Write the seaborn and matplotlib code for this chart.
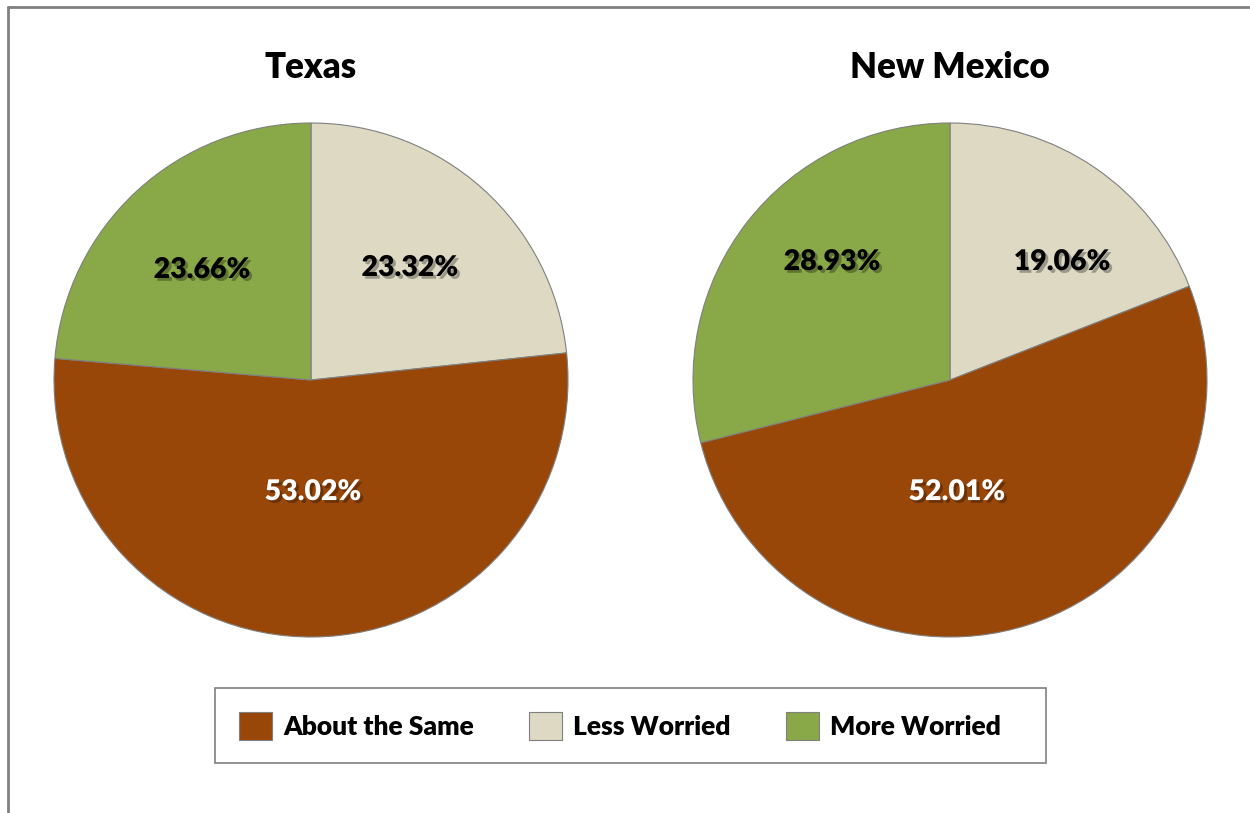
import matplotlib
matplotlib.use("Agg")
import matplotlib.pyplot as plt
import matplotlib.patheffects as pe
from matplotlib.patches import Patch, Rectangle
from matplotlib.lines import Line2D
import seaborn as sns

categories = ["Less Worried", "About the Same", "More Worried"]
texas = [23.32, 53.02, 23.66]
new_mexico = [19.06, 52.01, 28.93]
titles = ["Texas", "New Mexico"]
legend_order = ["About the Same", "Less Worried", "More Worried"]

# Percentage label anchors inside each pie, in units of the pie radius
label_anchors = [
    [(0.385, 0.436), (0.008, -0.436), (-0.424, 0.428)],
    [(0.436, 0.459), (0.027, -0.436), (-0.459, 0.459)],
]

sns.set_theme(style="white")
plt.rcParams["font.family"] = ["Lato", "DejaVu Sans"]

palette = {"About the Same": "#994708", "Less Worried": "#DDD9C3", "More Worried": "#89A847"}
label_color = {"About the Same": "white", "Less Worried": "black", "More Worried": "black"}

W, H = 1250, 813
fig = plt.figure(figsize=(W / 100, H / 100), dpi=100)
fig.patch.set_facecolor("white")

R = 257
centers = [(311, 380), (950, 380)]

for (cx, cy), title, values, anchors in zip(centers, titles, [texas, new_mexico], label_anchors):
    ax = fig.add_axes([(cx - R) / W, 1 - (cy + R) / H, 2 * R / W, 2 * R / H])
    wedges, texts, autotexts = ax.pie(
        values,
        colors=[palette[c] for c in categories],
        startangle=90,
        counterclock=False,
        autopct=lambda p: f"{p:.2f}%",
        pctdistance=0.58,
        wedgeprops=dict(edgecolor="#7f7f7f", linewidth=0.8),
        textprops=dict(fontsize=20.5, fontweight="heavy"),
    )
    for t, c, xy in zip(autotexts, categories, anchors):
        t.set_position(xy)
        t.set_color(label_color[c])
        t.set_path_effects([
            pe.SimplePatchShadow(offset=(2, -2), shadow_rgbFace="black", alpha=0.3),
            pe.Normal(),
        ])
    ax.set_xlim(-1.0, 1.0)
    ax.set_ylim(-1.0, 1.0)
    ax.axis("off")
    fig.text(cx / W, 1 - 68 / H, title, ha="center", va="center",
             fontsize=25, fontweight="heavy", color="black")

# Legend entries, with a separately drawn box around them
handles = [Patch(facecolor=palette[c], edgecolor="#7f7f7f", linewidth=0.8, label=c)
           for c in legend_order]
leg = fig.legend(handles=handles, loc="center", ncol=3,
                 bbox_to_anchor=(620 / W, 1 - 726 / H),
                 frameon=False, labelcolor="black",
                 prop=dict(size=19, weight="heavy"),
                 handlelength=1.25, handleheight=1.25, handletextpad=0.42,
                 columnspacing=2.1, borderpad=0.0, borderaxespad=0)
fig.add_artist(Rectangle((215 / W, 1 - 763 / H), (1046 - 215) / W, (763 - 688) / H,
                         transform=fig.transFigure, facecolor="none",
                         edgecolor="#7f7f7f", linewidth=1.2))

# Outer border
fig.add_artist(Line2D([8 / W, 1.0], [1 - 7 / H, 1 - 7 / H], color="#808080", linewidth=2,
                      transform=fig.transFigure))
fig.add_artist(Line2D([8 / W, 8 / W], [1 - 7 / H, 0.0], color="#808080", linewidth=2,
                      transform=fig.transFigure))

fig.savefig("out.png", dpi=100, facecolor="white")
